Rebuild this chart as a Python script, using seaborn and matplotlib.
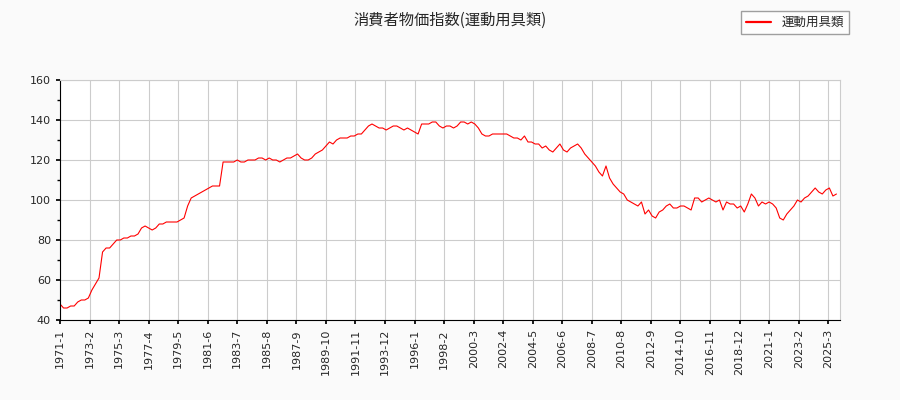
import numpy as np
import pandas as pd
import seaborn as sns
import matplotlib.pyplot as plt
from matplotlib.ticker import MultipleLocator

# quarterly readings of the index, 1971 Q1 .. 2025 Q4
values = [
    48, 46, 46, 47,   47, 49, 50, 50,   51, 55, 58, 61,   74, 76, 76, 78,
    80, 80, 81, 81,   82, 82, 83, 86,   87, 86, 85, 86,   88, 88, 89, 89,
    89, 89, 90, 91,   97, 101, 102, 103, 104, 105, 106, 107, 107, 107, 119, 119,
    119, 119, 120, 119, 119, 120, 120, 120, 121, 121, 120, 121, 120, 120, 119, 120,
    121, 121, 122, 123, 121, 120, 120, 121, 123, 124, 125, 127, 129, 128, 130, 131,
    131, 131, 132, 132, 133, 133, 135, 137, 138, 137, 136, 136, 135, 136, 137, 137,
    136, 135, 136, 135, 134, 133, 138, 138, 138, 139, 139, 137, 136, 137, 137, 136,
    137, 139, 139, 138, 139, 138, 136, 133, 132, 132, 133, 133, 133, 133, 133, 132,
    131, 131, 130, 132, 129, 129, 128, 128, 126, 127, 125, 124, 126, 128, 125, 124,
    126, 127, 128, 126, 123, 121, 119, 117, 114, 112, 117, 111, 108, 106, 104, 103,
    100, 99, 98, 97,  99, 93, 95, 92,   91, 94, 95, 97,   98, 96, 96, 97,
    97, 96, 95, 101,  101, 99, 100, 101, 100, 99, 100, 95, 99, 98, 98, 96,
    97, 94, 98, 103,  101, 97, 99, 98,  99, 98, 96, 91,  90, 93, 95, 97,
    100, 99, 101, 102, 104, 106, 104, 103, 105, 106, 102, 103,
]
months = [3 * i for i in range(len(values))]   # months since 1971-1

tick_pos = list(range(0, 660, 25))
tick_labels = [f"{1971 + p // 12}-{p % 12 + 1}" for p in tick_pos]

df = pd.DataFrame({"month": months, "value": values})

sns.set_theme(style="whitegrid")
plt.rcParams['font.family'] = ['DejaVu Sans', 'Noto Sans CJK JP']

fig = plt.figure(figsize=(9, 4), dpi=100, facecolor="#fafafa")
ax = fig.add_axes([60 / 900, 80 / 400, 780 / 900, 240 / 400])
ax.set_facecolor("white")
sns.lineplot(data=df, x="month", y="value", ax=ax, color="red", linewidth=0.8, label="運動用具類")

ax.set_xlim(0, 660)
ax.set_ylim(40, 160)
ax.set_yticks(range(40, 161, 20))
ax.yaxis.set_minor_locator(MultipleLocator(10))
ax.set_xticks(tick_pos)
ax.set_xticklabels(tick_labels, rotation=90, fontsize=8)
ax.tick_params(axis="y", labelsize=8)
ax.set_xlabel("")
ax.set_ylabel("")
for name, s in ax.spines.items():
    s.set_linewidth(0.8)
    s.set_color("black" if name in ("left", "bottom") else "#cccccc")
ax.grid(color="#cccccc", linewidth=0.8)
ax.tick_params(left=True, bottom=True, length=3, color="black")
ax.tick_params(axis="y", which="minor", left=True, length=2, color="black")

fig.suptitle("消費者物価指数(運動用具類)", y=0.97, fontsize=11,
             family=['Noto Sans CJK JP', 'DejaVu Sans'])
leg = ax.legend(loc="upper right", bbox_to_anchor=(855 / 900, 395 / 400),
                bbox_transform=fig.transFigure, fontsize=9, frameon=True,
                fancybox=False, edgecolor="#888888",
                prop={'family': ['Noto Sans CJK JP', 'DejaVu Sans'], 'size': 9})
for line in leg.get_lines():
    line.set_linewidth(1.6)

fig.savefig("out.png", dpi=100, facecolor=fig.get_facecolor())
